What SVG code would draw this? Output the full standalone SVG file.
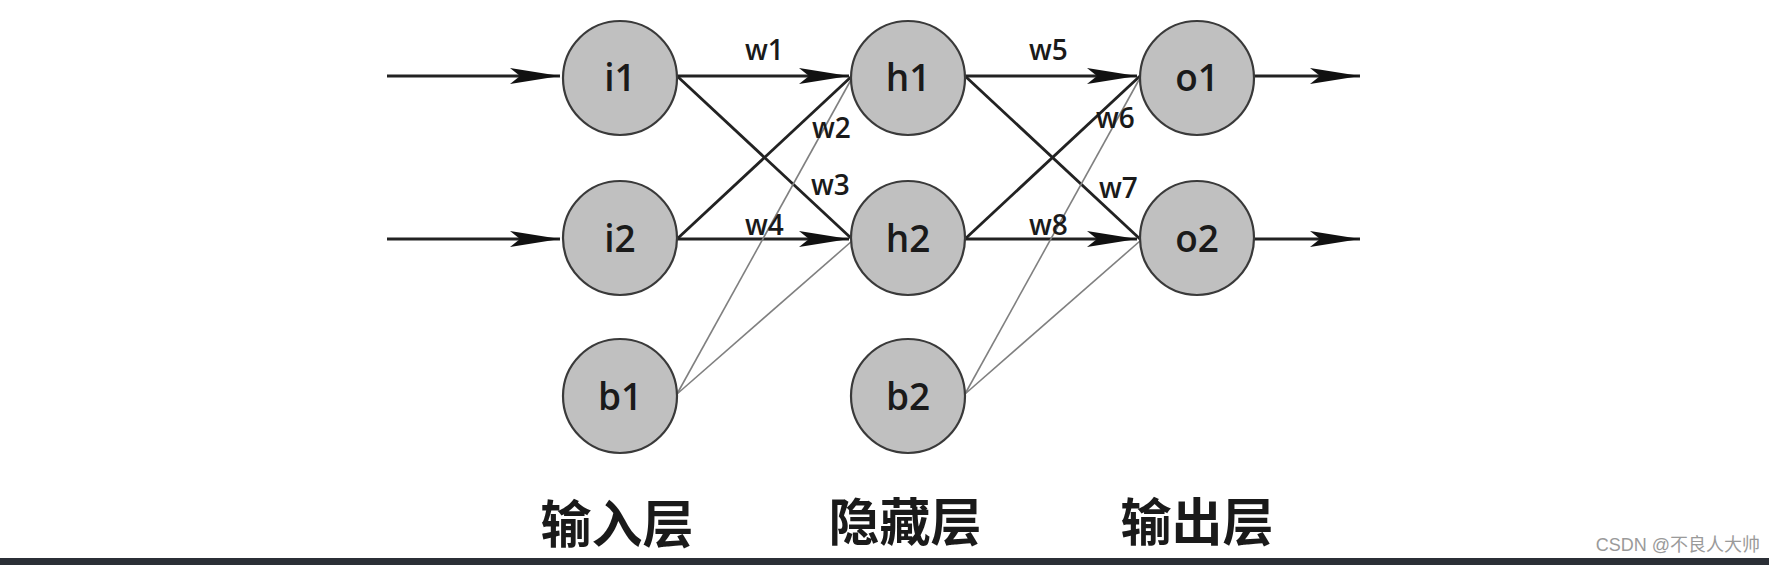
<svg xmlns="http://www.w3.org/2000/svg" width="1769" height="565" viewBox="0 0 1769 565">
<style>
.node{fill:#c0c0c0;stroke:#3a3a3a;stroke-width:2.2}
.nl{font-family:"Open Sans","Liberation Sans",sans-serif;font-weight:600;font-size:37px;fill:#1a1a1a;text-anchor:middle}
.wl{font-family:"Open Sans","Liberation Sans",sans-serif;font-weight:600;font-size:28px;fill:#1a1a1a}
.thick{stroke:#222;stroke-width:2.8;fill:none}
.thin{stroke:#808080;stroke-width:1.6;fill:none}
.layer{font-family:"Noto Sans CJK SC",sans-serif;font-weight:700;font-size:51px;fill:#1a1a1a;text-anchor:middle}
.wm{font-family:"Liberation Sans","Noto Sans CJK SC",sans-serif;font-size:18px;fill:#9a9a9a}
</style>
<defs>
<marker id="arr" viewBox="0 0 50 18" markerWidth="50" markerHeight="18" markerUnits="userSpaceOnUse" refX="50" refY="9" orient="auto">
<path d="M0,1 L50,9 L0,17 L10,9 Z" fill="#111"/>
</marker>
</defs>
<rect x="0" y="0" width="1769" height="565" fill="#ffffff"/>
<g id="connectors">
<line class="thick" x1="387" y1="76" x2="560" y2="76" marker-end="url(#arr)"/>
<line class="thick" x1="387" y1="239" x2="560" y2="239" marker-end="url(#arr)"/>
<line class="thick" x1="677" y1="76" x2="849" y2="76" marker-end="url(#arr)"/>
<line class="thick" x1="677" y1="239" x2="849" y2="239" marker-end="url(#arr)"/>
<line class="thick" x1="677" y1="76" x2="852" y2="239"/>
<line class="thick" x1="677" y1="239" x2="852" y2="76"/>
<line class="thin" x1="677" y1="394" x2="852" y2="78"/>
<line class="thin" x1="677" y1="394" x2="852" y2="241"/>
<line class="thick" x1="965" y1="76" x2="1137" y2="76" marker-end="url(#arr)"/>
<line class="thick" x1="965" y1="239" x2="1137" y2="239" marker-end="url(#arr)"/>
<line class="thick" x1="965" y1="76" x2="1140" y2="239"/>
<line class="thick" x1="965" y1="239" x2="1140" y2="76"/>
<line class="thin" x1="965" y1="394" x2="1140" y2="78"/>
<line class="thin" x1="965" y1="394" x2="1140" y2="241"/>
<line class="thick" x1="1254" y1="76" x2="1360" y2="76" marker-end="url(#arr)"/>
<line class="thick" x1="1254" y1="239" x2="1360" y2="239" marker-end="url(#arr)"/>
<text class="wl" x="745" y="60">w1</text>
<text class="wl" x="812" y="138">w2</text>
<text class="wl" x="811" y="195">w3</text>
<text class="wl" x="745" y="235">w4</text>
<text class="wl" x="1029" y="60">w5</text>
<text class="wl" x="1096" y="128">w6</text>
<text class="wl" x="1099" y="198">w7</text>
<text class="wl" x="1029" y="235">w8</text>
</g>
<g id="i1"><circle class="node" cx="620" cy="78" r="57"/><text class="nl" x="620" y="91">i1</text></g>
<g id="i2"><circle class="node" cx="620" cy="238" r="57"/><text class="nl" x="620" y="252">i2</text></g>
<g id="b1"><circle class="node" cx="620" cy="396" r="57"/><text class="nl" x="620" y="410">b1</text></g>
<g id="h1"><circle class="node" cx="908" cy="78" r="57"/><text class="nl" x="908" y="91">h1</text></g>
<g id="h2"><circle class="node" cx="908" cy="238" r="57"/><text class="nl" x="908" y="252">h2</text></g>
<g id="b2"><circle class="node" cx="908" cy="396" r="57"/><text class="nl" x="908" y="410">b2</text></g>
<g id="o1"><circle class="node" cx="1197" cy="78" r="57"/><text class="nl" x="1197" y="91">o1</text></g>
<g id="o2"><circle class="node" cx="1197" cy="238" r="57"/><text class="nl" x="1197" y="252">o2</text></g>
<g id="labels">
<text class="layer" x="617" y="543">输入层</text>
<text class="layer" x="905" y="541">隐藏层</text>
<text class="layer" x="1197" y="541">输出层</text>
<text class="wm" x="1760" y="551" text-anchor="end">CSDN @不良人大帅</text>
</g>
<rect x="0" y="558" width="1769" height="7" fill="#2b2f36"/>
</svg>
